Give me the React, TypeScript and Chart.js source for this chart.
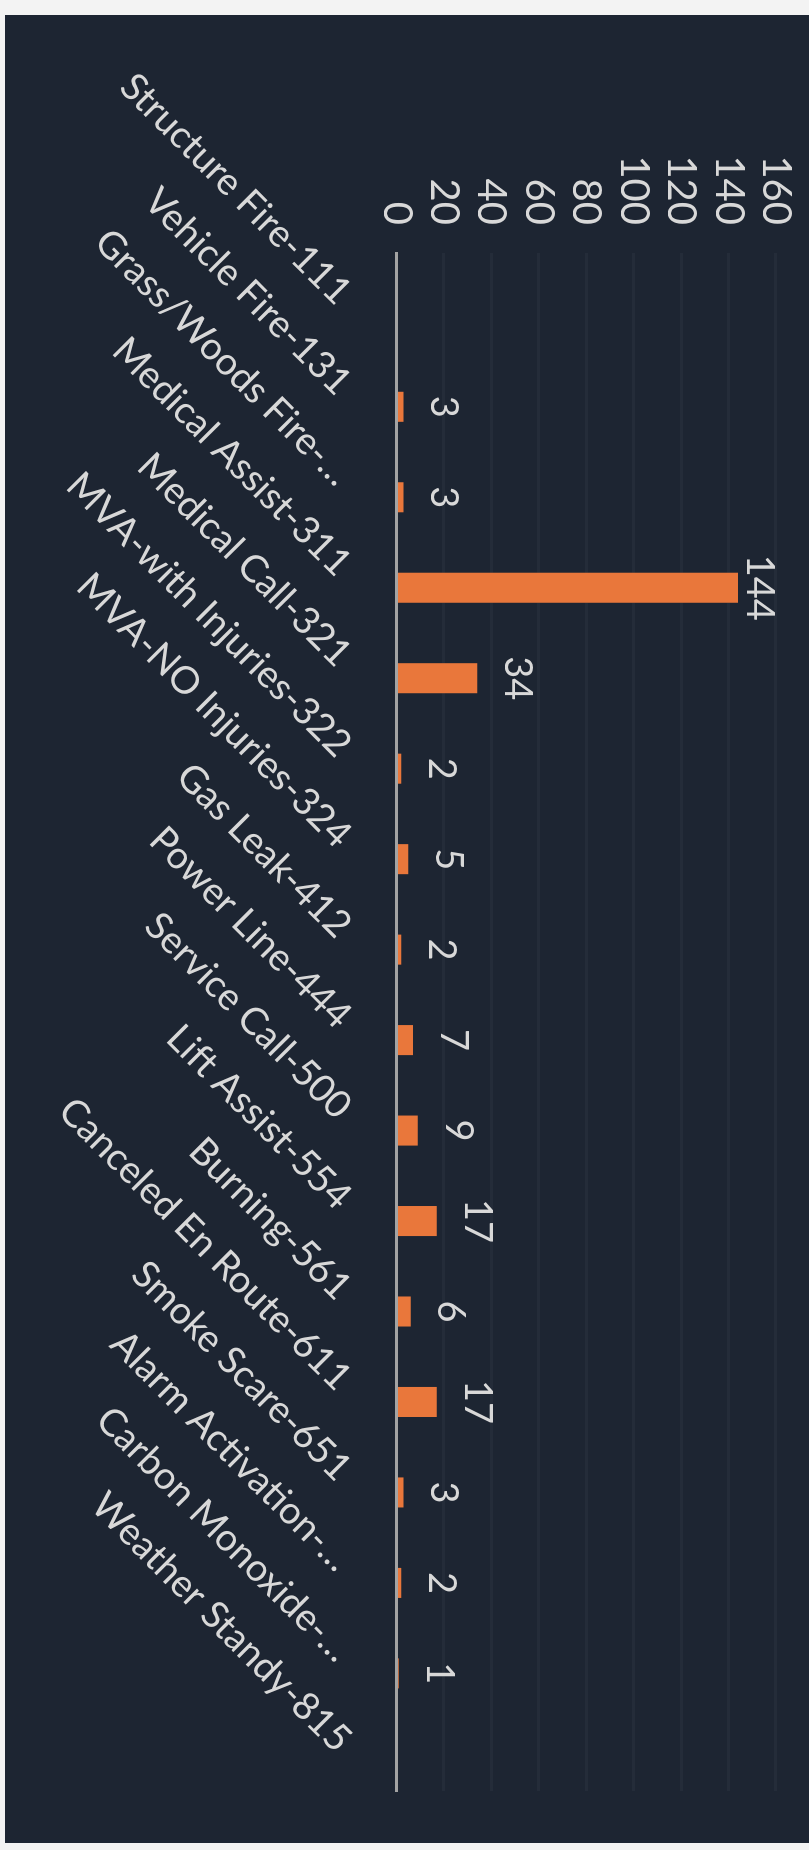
import React, { useEffect, useRef } from 'react';
import { Chart, registerables } from 'chart.js';

Chart.register(...registerables);

// ---- data ----
const categories = [
  'Structure Fire-111',
  'Vehicle Fire-131',
  'Grass/Woods Fire-…',
  'Medical Assist-311',
  'Medical Call-321',
  'MVA-with Injuries-322',
  'MVA-NO Injuries-324',
  'Gas Leak-412',
  'Power Line-444',
  'Service Call-500',
  'Lift Assist-554',
  'Burning-561',
  'Canceled En Route-611',
  'Smoke Scare-651',
  'Alarm Activation-…',
  'Carbon Monoxide-…',
  'Weather Standy-815',
];
// an empty first series (as in the source workbook) shifts the real bars within each category
const emptySeries = [null, null, null, null, null, null, null, null, null, null, null, null, null, null, null, null, null];
const callCounts = [null, 3, 3, 144, 34, 2, 5, 2, 7, 9, 17, 6, 17, 3, 2, 1, null];
const valueMin = 0;
const valueMax = 160;
const valueStep = 20;

// ---- style ----
const W = 1828;
const H = 804;
const BG = '#1d2532';
const BAR = '#e9773b';
const TEXT = '#d8d8d8';
const AXIS = '#a3a3a3';
const GRID = 'rgba(255,255,255,0.03)';
const FONT = 'Lato';
const AREA_BOTTOM = 412.5;

export default function App() {
  const ref = useRef<HTMLCanvasElement>(null);

  useEffect(() => {
    const canvas = ref.current;
    if (!canvas) return;

    const valueLabels = {
      id: 'valueLabels',
      afterDatasetsDraw(chart: any) {
        const { ctx, chartArea } = chart;
        const meta = chart.getDatasetMeta(1);
        ctx.save();
        ctx.font = `38px ${FONT}`;
        ctx.fillStyle = TEXT;
        ctx.textAlign = 'center';
        ctx.textBaseline = 'middle';
        meta.data.forEach((bar: any, i: number) => {
          const v = callCounts[i];
          if (v === null || v === undefined) return;
          const y = Math.max(bar.y - 40, chartArea.top + 17);
          ctx.fillText(String(v), bar.x, y);
        });
        ctx.restore();
      },
    };

    const chart = new Chart(canvas, {
      type: 'bar',
      data: {
        labels: categories,
        datasets: [
          {
            label: 'Series 1',
            data: emptySeries,
            backgroundColor: BAR,
            categoryPercentage: 0.8,
            barPercentage: 0.83,
          },
          {
            label: 'Calls',
            data: callCounts,
            backgroundColor: BAR,
            categoryPercentage: 0.8,
            barPercentage: 0.83,
          },
        ],
      },
      options: {
        animation: false,
        responsive: false,
        devicePixelRatio: 1,
        layout: { padding: { left: 140, right: 52, top: 33, bottom: 0 } },
        plugins: {
          legend: { display: false },
          tooltip: { enabled: false },
        },
        scales: {
          x: {
            type: 'category',
            offset: true,
            grid: { display: false, drawTicks: false },
            border: { display: true, color: AXIS, width: 3 },
            ticks: {
              autoSkip: false,
              minRotation: 45,
              maxRotation: 45,
              padding: 36,
              color: TEXT,
              font: { size: 38, family: FONT },
            },
            afterFit: (s: any) => {
              s.height = H - AREA_BOTTOM;
              s.paddingLeft = 0;
              s.paddingRight = 0;
            },
          },
          y: {
            min: valueMin,
            max: valueMax,
            grid: {
              color: (c: any) => (c.tick && c.tick.value === 0 ? 'rgba(0,0,0,0)' : GRID),
              lineWidth: 3,
              drawTicks: false,
            },
            border: { display: false },
            ticks: {
              stepSize: valueStep,
              autoSkip: false,
              padding: 28,
              color: TEXT,
              font: { size: 40, family: FONT },
            },
            afterFit: (s: any) => {
              s.width = 98;
              s.paddingTop = 0;
              s.paddingBottom = 0;
            },
          },
        },
      },
      plugins: [valueLabels],
    } as any);

    return () => chart.destroy();
  }, []);

  return (
    <div
      style={{
        position: 'absolute',
        left: 0,
        top: 0,
        width: 809,
        height: 1850,
        background: '#f3f3f3',
        overflow: 'hidden',
      }}
    >
      <div
        style={{
          position: 'absolute',
          left: 0,
          top: 0,
          width: W,
          height: H,
          background: BG,
          transformOrigin: '0 0',
          transform: 'translate(809px, 15px) rotate(90deg)',
        }}
      >
        <canvas ref={ref} width={W} height={H} style={{ display: 'block', width: W, height: H }} />
      </div>
    </div>
  );
}
